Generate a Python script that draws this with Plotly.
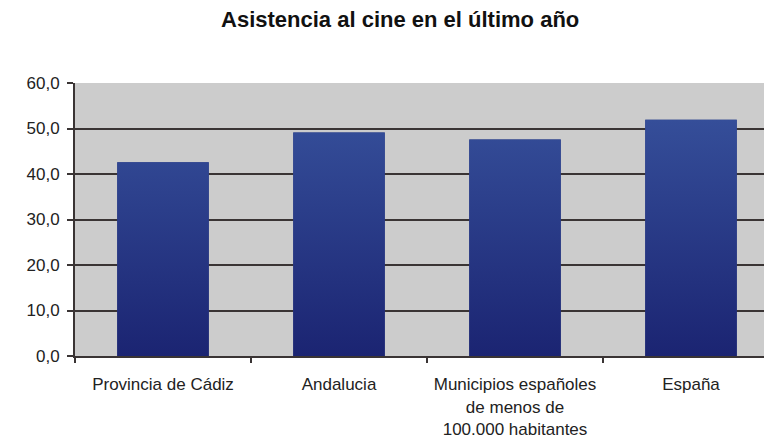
import plotly.graph_objects as go

categories = ["Provincia de Cádiz", "Andalucia", "Municipios españoles<br>de menos de<br>100.000 habitantes", "España"]
values = [42.6, 49.1, 47.6, 51.9]
title_text = "Asistencia al cine en el último año"
y_ticks = [0, 10, 20, 30, 40, 50, 60]

BAR_W = 0.52

fig = go.Figure()
# base bars (category axis)
fig.add_trace(go.Bar(
    x=categories, y=values,
    marker=dict(color="#29397f", line=dict(width=0)),
    width=BAR_W, hoverinfo="x+y",
))

# gradient overlay built from the same values on an overlaid linear axis
gx, gy = [], []
for i, v in enumerate(values):
    gx += [i - BAR_W / 2, i + BAR_W / 2, i + BAR_W / 2, i - BAR_W / 2, i - BAR_W / 2, None]
    gy += [0, 0, v, v, 0, None]
fig.add_trace(go.Scatter(
    x=gx, y=gy, xaxis="x2", yaxis="y",
    mode="lines", line=dict(width=0), fill="toself",
    fillgradient=dict(type="vertical", colorscale=[[0, "#1b2472"], [1, "#354e99"]], start=0, stop=52),
    hoverinfo="skip", connectgaps=False,
))

fig.update_layout(
    width=772, height=440,
    margin=dict(l=67, r=1, t=75, b=92),
    paper_bgcolor="white", plot_bgcolor="#cccccc",
    separators=",.",
    showlegend=False,
    title=dict(text="<b>" + title_text + "</b>", x=0.508, xanchor="center", y=0.974, yanchor="middle",
               font=dict(family="Liberation Sans, Arial", size=22, color="#111111")),
    font=dict(family="Liberation Sans, Arial", size=17, color="#222222"),
    xaxis2=dict(overlaying="x", range=[-0.5, 3.5], visible=False, fixedrange=True),
)
fig.update_yaxes(
    range=[0, 60], tickvals=y_ticks, tickformat=".1f",
    showgrid=True, gridcolor="#3a3434", gridwidth=2,
    showline=True, linecolor="#3a3434", linewidth=2,
    ticks="outside", ticklen=6, tickcolor="#3a3434", tickwidth=2,
    ticklabelstandoff=4,
    zeroline=False, fixedrange=True,
)
fig.update_layout(xaxis=dict(
    range=[-0.5, 3.5],
    showline=True, linecolor="#3a3434", linewidth=2,
    ticks="outside", tickson="boundaries", ticklen=5, tickcolor="#3a3434", tickwidth=2,
    ticklabelstandoff=12,
    showgrid=False, fixedrange=True,
))
fig.write_html("out.html")
